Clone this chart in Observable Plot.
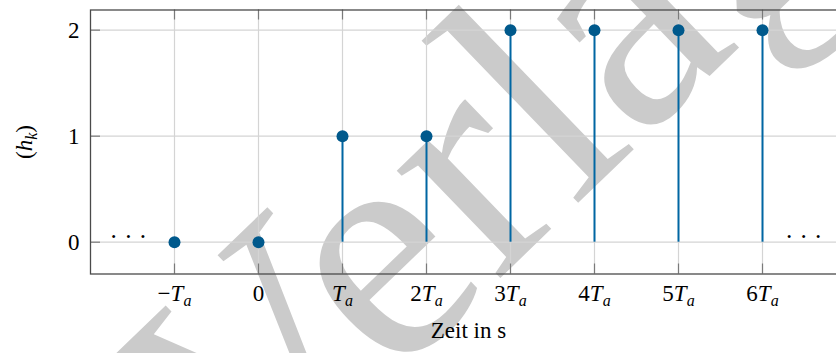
<!DOCTYPE html>
<html>
<head>
<meta charset="utf-8">
<script src="https://cdn.jsdelivr.net/npm/d3@7"></script>
<script src="https://cdn.jsdelivr.net/npm/@observablehq/plot@0.6"></script>
<style>
  html, body { margin: 0; padding: 0; background: #fff; overflow: hidden; }
  #chart { width: 836px; height: 353px; overflow: hidden; }
  #chart svg { display: block; max-width: none !important; width: 850px !important; height: 353px !important; }
  #chart svg, #chart svg text, #chart svg tspan {
    font-family: "Liberation Serif", "Times New Roman", serif !important;
  }
</style>
</head>
<body>
<div id="chart"></div>
<script>
// Sample index k (in units of the sampling period T_a) and the sequence h_k
const sampleIndex = [-1, 0, 1, 2, 3, 4, 5, 6];
const hValues = [0, 0, 1, 1, 2, 2, 2, 2];

// Axis ticks and their labels ("_" marks a subscript)
const xTickValues = [-1, 0, 1, 2, 3, 4, 5, 6];
const xTickLabels = ["−T_a", "0", "T_a", "2T_a", "3T_a", "4T_a", "5T_a", "6T_a"];
const yTickValues = [0, 1, 2];
const xDomain = [-2, 7];
const yDomain = [-0.3, 2.19];

// Continuation marks on both ends of the sequence
const ellipsisX = [-1.55, 6.49];

const xLabel = "Zeit in s";
const yLabel = "(h_k)";

const W = 850, H = 353;
const margin = { top: 9.5, right: 4, bottom: 79.5, left: 90 };
const innerW = W - margin.left - margin.right;
const innerH = H - margin.top - margin.bottom;

const FONT = "'Liberation Serif', 'Times New Roman', serif";
const stemColor = "#0066a3";
const dotColor = "#00598c";
const gridColor = "#d4d4d4";
const tickColor = "#7a7a7a";

const samples = sampleIndex.map((k, i) => ({ k, h: hValues[i] }));

const plot = Plot.plot({
  width: W,
  height: H,
  marginTop: margin.top,
  marginRight: margin.right,
  marginBottom: margin.bottom,
  marginLeft: margin.left,
  style: { fontFamily: FONT, fontSize: "23px", background: "transparent", color: "#000" },
  x: { domain: xDomain },
  y: { domain: yDomain },
  marks: [
    Plot.gridX(xTickValues, { stroke: gridColor, strokeOpacity: 1, strokeWidth: 1.2 }),
    Plot.gridY(yTickValues, { stroke: gridColor, strokeOpacity: 1, strokeWidth: 1.2 }),
    // inward ticks on bottom, top and left edges of the frame
    Plot.tickX(xTickValues, { x: d => d, stroke: tickColor, strokeWidth: 1.2, insetTop: innerH - 10 }),
    Plot.tickX(xTickValues, { x: d => d, stroke: tickColor, strokeWidth: 1.2, insetBottom: innerH - 10 }),
    Plot.tickY(yTickValues, { y: d => d, stroke: tickColor, strokeWidth: 1.2, insetRight: innerW - 10 }),
    Plot.axisX(xTickValues, {
      anchor: "bottom", tickSize: 0, tickPadding: 11,
      tickFormat: d => xTickLabels[xTickValues.indexOf(d)],
      label: null, fontSize: 23
    }),
    Plot.axisY(yTickValues, {
      anchor: "left", tickSize: 0, tickPadding: 11,
      tickFormat: d => String(d), label: null, fontSize: 23
    }),
    // stems and sample points
    Plot.ruleX(samples, { x: "k", y1: 0, y2: "h", stroke: stemColor, strokeWidth: 2 }),
    Plot.dot(samples, { x: "k", y: "h", r: 6, fill: dotColor, stroke: "none" }),
    // continuation dots
    Plot.text(ellipsisX, { x: d => d, y: 0, text: () => "· · ·", fontSize: 25, dy: -5, fill: "#000" }),
    // axis titles
    Plot.text([xLabel], { frameAnchor: "bottom", text: d => d, dy: 64, fontSize: 23, fill: "#000", textAnchor: "middle" }),
    Plot.text([yLabel], { frameAnchor: "left", text: d => d, rotate: -90, dx: -66, fontSize: 23, fill: "#000", textAnchor: "middle" }),
    Plot.frame({ stroke: "#4a4a4a", strokeWidth: 1.3 })
  ]
});

// Typeset "X_s" strings: letters italic, part after "_" as subscript
const NS = "http://www.w3.org/2000/svg";
function typeset(textEl, str) {
  textEl.textContent = "";
  const parts = str.split("_");
  const main = parts[0];
  const sub = parts.length > 1 ? parts[1] : null;
  for (const ch of main) {
    const t = document.createElementNS(NS, "tspan");
    t.textContent = ch;
    if (/[A-Za-z]/.test(ch)) t.setAttribute("font-style", "italic");
    textEl.appendChild(t);
  }
  if (sub !== null) {
    const s = document.createElementNS(NS, "tspan");
    s.textContent = sub.replace(")", "");
    s.setAttribute("font-style", "italic");
    s.setAttribute("font-size", "16");
    s.setAttribute("dy", "5");
    textEl.appendChild(s);
    if (sub.includes(")")) {
      const c = document.createElementNS(NS, "tspan");
      c.textContent = ")";
      c.setAttribute("dy", "-5");
      textEl.appendChild(c);
    }
  }
}

plot.querySelectorAll('g[aria-label="x-axis tick label"] text').forEach(el => {
  typeset(el, el.textContent);
});
plot.querySelectorAll('g[aria-label="text"] text').forEach(el => {
  if (el.textContent === yLabel) typeset(el, yLabel);
});

// Publisher watermark behind the chart, running diagonally upward
const watermarkText = "Verlag";
const wm = document.createElementNS(NS, "text");
wm.textContent = watermarkText;
wm.setAttribute("x", "0");
wm.setAttribute("y", "0");
wm.setAttribute("text-anchor", "start");
wm.style.fontSize = "325px";
wm.style.fill = "#cbcbcb";
plot.insertBefore(wm, plot.firstChild.nextSibling);

document.getElementById("chart").appendChild(plot);

// Pin the foot of the "l" to its spot on the page and turn the word by 45°
const lIndex = watermarkText.indexOf("l");
const lStart = wm.getStartPositionOfChar(lIndex);
const lBox = wm.getExtentOfChar(lIndex);
const lFootX = lStart.x + lBox.width / 2;
wm.setAttribute("transform", `translate(606,176) rotate(-44) translate(${-lFootX},0)`);
</script>
</body>
</html>
